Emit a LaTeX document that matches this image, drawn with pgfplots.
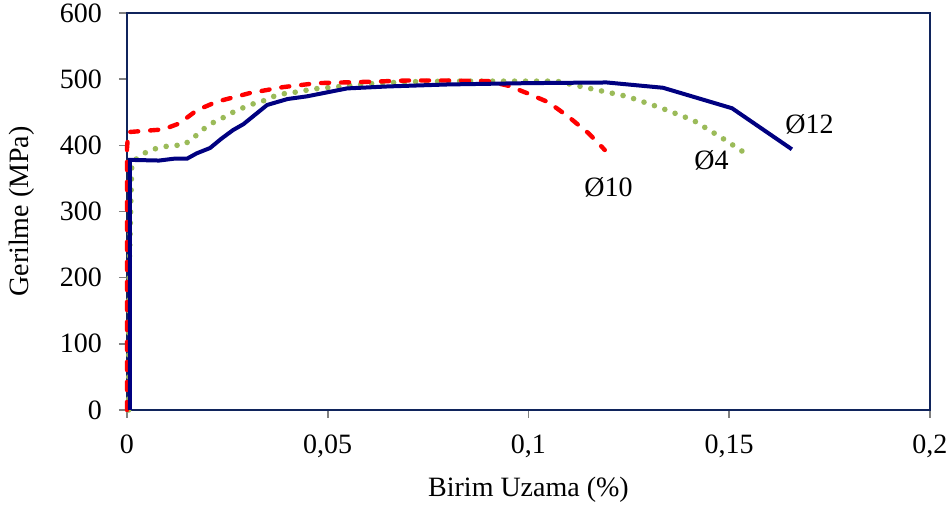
\documentclass[border=0pt]{standalone}
\usepackage{fontspec}
\setmainfont{Liberation Serif}
\usepackage{pgfplots}
\pgfplotsset{compat=1.18}
\definecolor{framenavy}{RGB}{16,36,92}
\definecolor{lnavy}{RGB}{0,0,128}
\definecolor{lred}{RGB}{255,0,0}
\definecolor{lgreen}{RGB}{155,187,89}
\newcommand{\fs}{\fontsize{14}{17}\selectfont}
\begin{document}
\begin{tikzpicture}
\begin{axis}[
  scale only axis,
  width=401.5pt, height=198.5pt,
  xmin=0, xmax=0.2, ymin=0, ymax=600,
  xtick={0,0.05,0.1,0.15,0.2},
  xticklabels={0,{0,05},{0,1},{0,15},{0,2}},
  ytick={0,100,...,600},
  tick align=outside,
  major tick length=4pt,
  tick style={draw=gray, line width=0.8pt},
  axis line style={draw=framenavy, line width=1pt},
  xtick pos=bottom, ytick pos=left,
  tick label style={font=\fs},
  xticklabel style={yshift=-5pt},
  yticklabel style={xshift=-5pt},
  /pgf/number format/assume math mode=true,
  xlabel={Birim Uzama (\%)},
  ylabel={Gerilme (MPa)},
  label style={font=\fs},
  xlabel style={at={(axis description cs:0.5,0)}, anchor=center, yshift=-40pt},
  ylabel style={at={(axis description cs:-0.1308,0.5)}, anchor=center},
  clip=false,
]
% Ø4 green dotted
\addplot[lgreen, line width=2.8pt, line cap=round, dash pattern=on 0pt off 5.5pt] coordinates {
  (0.0004,0) (0.0005,200) (0.0012,373) (0.003,383) (0.0057,393) (0.011,400) (0.014,400)
  (0.0165,411) (0.0187,423) (0.021,433) (0.0237,441) (0.0264,450) (0.029,457)
  (0.032,464) (0.0344,468) (0.0373,476) (0.04,479) (0.043,481) (0.046,485)
  (0.0514,488) (0.06,493) (0.07,496) (0.08,497) (0.09,497) (0.1,497) (0.107,497)
  (0.116,485) (0.1245,474) (0.1328,457) (0.141,438) (0.1485,410) (0.1535,390)
};
% Ø10 red dashed
\addplot[lred, line width=2.2pt, line cap=round, dash pattern=on 4pt off 6pt] coordinates {
  (0,0) (0,395) (0.0003,420) (0.009,424) (0.013,433) (0.0174,453) (0.0224,466)
  (0.0306,479) (0.0389,488) (0.0473,494) (0.06,496) (0.07,498) (0.08,498)
  (0.09,497) (0.095,490) (0.1,478) (0.105,465) (0.11,443) (0.115,418) (0.119,393)
};
% Ø12 navy solid
\addplot[lnavy, line width=2pt] coordinates {
  (0.0007,0) (0.0007,378) (0.008,377) (0.012,380) (0.015,380) (0.0174,388)
  (0.0207,396) (0.0235,410) (0.0264,423) (0.029,432) (0.0349,461) (0.04,470)
  (0.0448,474) (0.0548,486) (0.065,489) (0.08,492) (0.1,494) (0.1195,495)
  (0.1335,487) (0.1507,456) (0.1656,394)
};
\node[font=\fs] at (axis cs:0.170,431) {Ø12};
\node[font=\fs] at (axis cs:0.1456,378) {Ø4};
\node[font=\fs] at (axis cs:0.1199,336) {Ø10};
\end{axis}
\pgfresetboundingbox
\path (current axis.south west) ++(-63.5pt,-50.5pt) coordinate (bl);
\path (current axis.north east) ++(9.5pt,6.5pt) coordinate (tr);
\useasboundingbox (bl) rectangle (tr);
\end{tikzpicture}
\end{document}
